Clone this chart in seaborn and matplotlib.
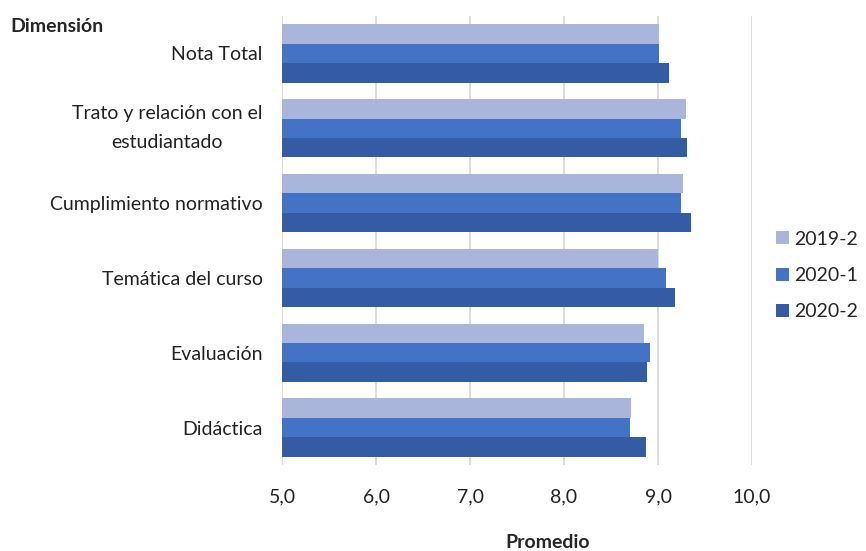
import matplotlib
matplotlib.use("Agg")
from matplotlib import pyplot as plt
import seaborn as sns
import pandas as pd

# Data
dimensiones = [
    "Nota Total",
    "Trato y relación con el\nestudiantado",
    "Cumplimiento normativo",
    "Temática del curso",
    "Evaluación",
    "Didáctica",
]
periodos = ["2019-2", "2020-1", "2020-2"]
prom_2019_2 = [9.01, 9.30, 9.27, 9.00, 8.85, 8.71]
prom_2020_1 = [9.01, 9.24, 9.24, 9.09, 8.92, 8.70]
prom_2020_2 = [9.12, 9.31, 9.35, 9.18, 8.88, 8.87]

colores = ["#A9B5DB", "#4472C4", "#345CA4"]

if __name__ == "__main__":
    sns.set_style("white")
    plt.rcParams["font.family"] = ["Lato", "DejaVu Sans"]

    # Long format table for seaborn
    rows = []
    for serie, valores in zip(periodos, [prom_2019_2, prom_2020_1, prom_2020_2]):
        for dim, v in zip(dimensiones, valores):
            rows.append({"Dimensión": dim, "Periodo": serie, "Promedio": v})
    df = pd.DataFrame(rows)

    fig = plt.figure(figsize=(8.66, 5.51), dpi=100)
    ax = fig.add_axes([282 / 866, 1 - 465 / 551, (752 - 282) / 866, (465 - 16) / 551])

    sns.barplot(data=df, y="Dimensión", x="Promedio", hue="Periodo",
                order=dimensiones, hue_order=periodos, palette=colores,
                orient="h", width=0.78, saturation=1, linewidth=0,
                edgecolor="none", ax=ax, zorder=3)

    ax.set_xlim(5, 10)
    ax.set_xticks([5, 6, 7, 8, 9, 10])
    ax.set_xticklabels([f"{t:.1f}".replace(".", ",") for t in range(5, 11)])
    ax.grid(axis="x", color="#D9D9D9", linewidth=1.3, zorder=0)
    ax.set_axisbelow(True)
    for s in ax.spines.values():
        s.set_visible(False)
    ax.tick_params(axis="both", length=0, labelsize=14, colors="#222222")
    ax.tick_params(axis="y", pad=14)
    ax.tick_params(axis="x", pad=17)
    for lab in ax.get_yticklabels():
        if "\n" in lab.get_text():
            lab.set_multialignment("center")
            lab.set_linespacing(1.85)
            lab.set_verticalalignment("center")
    ax.set_xlabel("")
    ax.set_ylabel("")

    # legend centred on the figure height, right of the plot
    ax.legend(loc="center left", bbox_to_anchor=(760 / 866, 0.5),
              bbox_transform=fig.transFigure, frameon=False,
              fontsize=14, handlelength=0.67, handleheight=0.67,
              handletextpad=0.3, labelspacing=1.0, borderpad=0.3)

    fig.text(10 / 866, 1 - 27 / 551, "Dimensión", fontsize=14, fontweight="bold",
             va="center", ha="left")
    fig.text(548 / 866, 1 - 543 / 551, "Promedio", fontsize=14, fontweight="bold",
             va="center", ha="center")

    fig.savefig("out.png", dpi=100)
